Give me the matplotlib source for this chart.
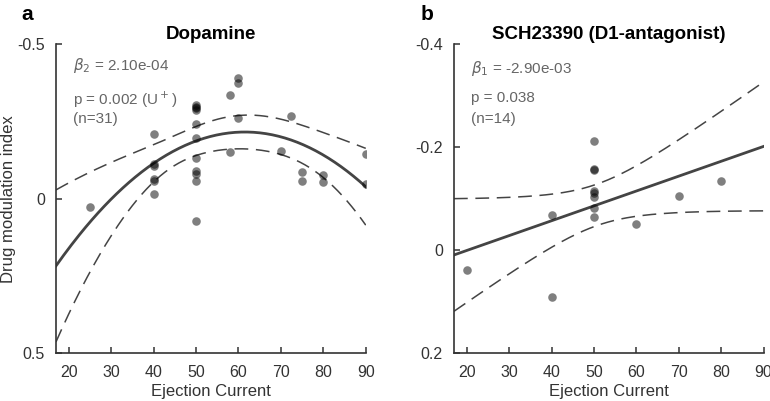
import numpy as np
import matplotlib.pyplot as plt

plt.rcParams['font.family'] = ['Liberation Sans', 'DejaVu Sans']

# panel a: dopamine
da_current = [25, 40, 40, 40, 40, 40, 40,
              50, 50, 50, 50, 50, 50, 50, 50, 50, 50, 50,
              60, 60, 58, 60, 58, 70, 72.5, 75, 75, 80, 80, 90, 90]
da_index = [0.026, -0.209, -0.114, -0.106, -0.063, -0.058, -0.015,
            -0.303, -0.297, -0.292, -0.286, -0.241, -0.195, -0.133, -0.09, -0.08, -0.057, 0.073,
            -0.392, -0.375, -0.335, -0.26, -0.15, -0.155, -0.268, -0.087, -0.057, -0.078, -0.054, -0.144, -0.049]

# panel b: SCH23390
sch_current = [20, 40, 40, 50, 50, 50, 50, 50, 50, 50, 50, 60, 70, 80]
sch_index = [0.039, -0.069, 0.090, -0.212, -0.158, -0.155, -0.115, -0.112, -0.104, -0.082, -0.065,
             -0.052, -0.106, -0.135]

line_col = '#444444'
t_crit = {1: 2.16, 2: 2.048}


def fit_band(x, y, degree, xs):
    x = np.asarray(x, float)
    y = np.asarray(y, float)
    X = np.vander(x, degree + 1)
    beta, *_ = np.linalg.lstsq(X, y, rcond=None)
    resid = y - X @ beta
    dof = len(x) - (degree + 1)
    s2 = resid @ resid / dof
    cov = np.linalg.inv(X.T @ X) * s2
    Xs = np.vander(xs, degree + 1)
    fit = Xs @ beta
    se = np.sqrt(np.einsum('ij,jk,ik->i', Xs, cov, Xs))
    return fit, fit - t_crit[degree] * se, fit + t_crit[degree] * se, beta


def draw(ax, x, y, degree, ylim, yticks, yticklabels, title, notes, note_y):
    xs = np.linspace(17, 90, 200)
    fit, lo, hi, beta = fit_band(x, y, degree, xs)
    ax.scatter(x, y, s=38, color='k', alpha=0.5, linewidths=0, zorder=3)
    ax.plot(xs, fit, color=line_col, lw=2.0, zorder=2)
    ax.plot(xs, lo, color=line_col, lw=1.1, dashes=(9, 5), zorder=2)
    ax.plot(xs, hi, color=line_col, lw=1.1, dashes=(9, 5), zorder=2)
    ax.set_xlim(17, 90)
    ax.set_ylim(ylim)
    ax.set_xticks(range(20, 91, 10))
    ax.set_yticks(yticks)
    ax.set_yticklabels(yticklabels)
    for s in ['top', 'right']:
        ax.spines[s].set_visible(False)
    for s in ['left', 'bottom']:
        ax.spines[s].set_color('#333333')
        ax.spines[s].set_linewidth(1.2)
    ax.tick_params(direction='in', length=4, width=1.1, color='#333333',
                   labelsize=11.5, labelcolor='#333333', pad=8)
    ax.set_xlabel('Ejection Current', fontsize=12, color='#333333', labelpad=3)
    ax.set_title(title, fontsize=13.5, fontweight='bold', pad=4)
    for t, yy in zip(notes, note_y):
        ax.text(0.055, yy, t, transform=ax.transAxes, fontsize=11, color='#666666',
                va='center', ha='left')


fig = plt.figure(figsize=(7.7, 4.01), dpi=100)
ax1 = fig.add_axes([0.0727, 0.1185, 0.4023, 0.7715])
ax2 = fig.add_axes([0.5896, 0.1185, 0.402, 0.7715])

draw(ax1, da_current, da_index, 2, (0.5, -0.5), [-0.5, 0, 0.5], ['-0.5', '0', '0.5'],
     'Dopamine', [r'$\beta_2$ = 2.10e-04', r'p = 0.002 (U$^+$)', '(n=31)'],
     [0.932, 0.819, 0.757])
draw(ax2, sch_current, sch_index, 1, (0.2, -0.4), [-0.4, -0.2, 0, 0.2], ['-0.4', '-0.2', '0', '0.2'],
     'SCH23390 (D1-antagonist)', [r'$\beta_1$ = -2.90e-03', 'p = 0.038', '(n=14)'],
     [0.92, 0.825, 0.758])

ax1.set_ylabel('Drug modulation index', fontsize=12, color='#333333', labelpad=1)
fig.text(0.028, 0.965, 'a', fontsize=15, fontweight='bold', va='center')
fig.text(0.546, 0.965, 'b', fontsize=15, fontweight='bold', va='center')

fig.savefig('out.png', dpi=100)
